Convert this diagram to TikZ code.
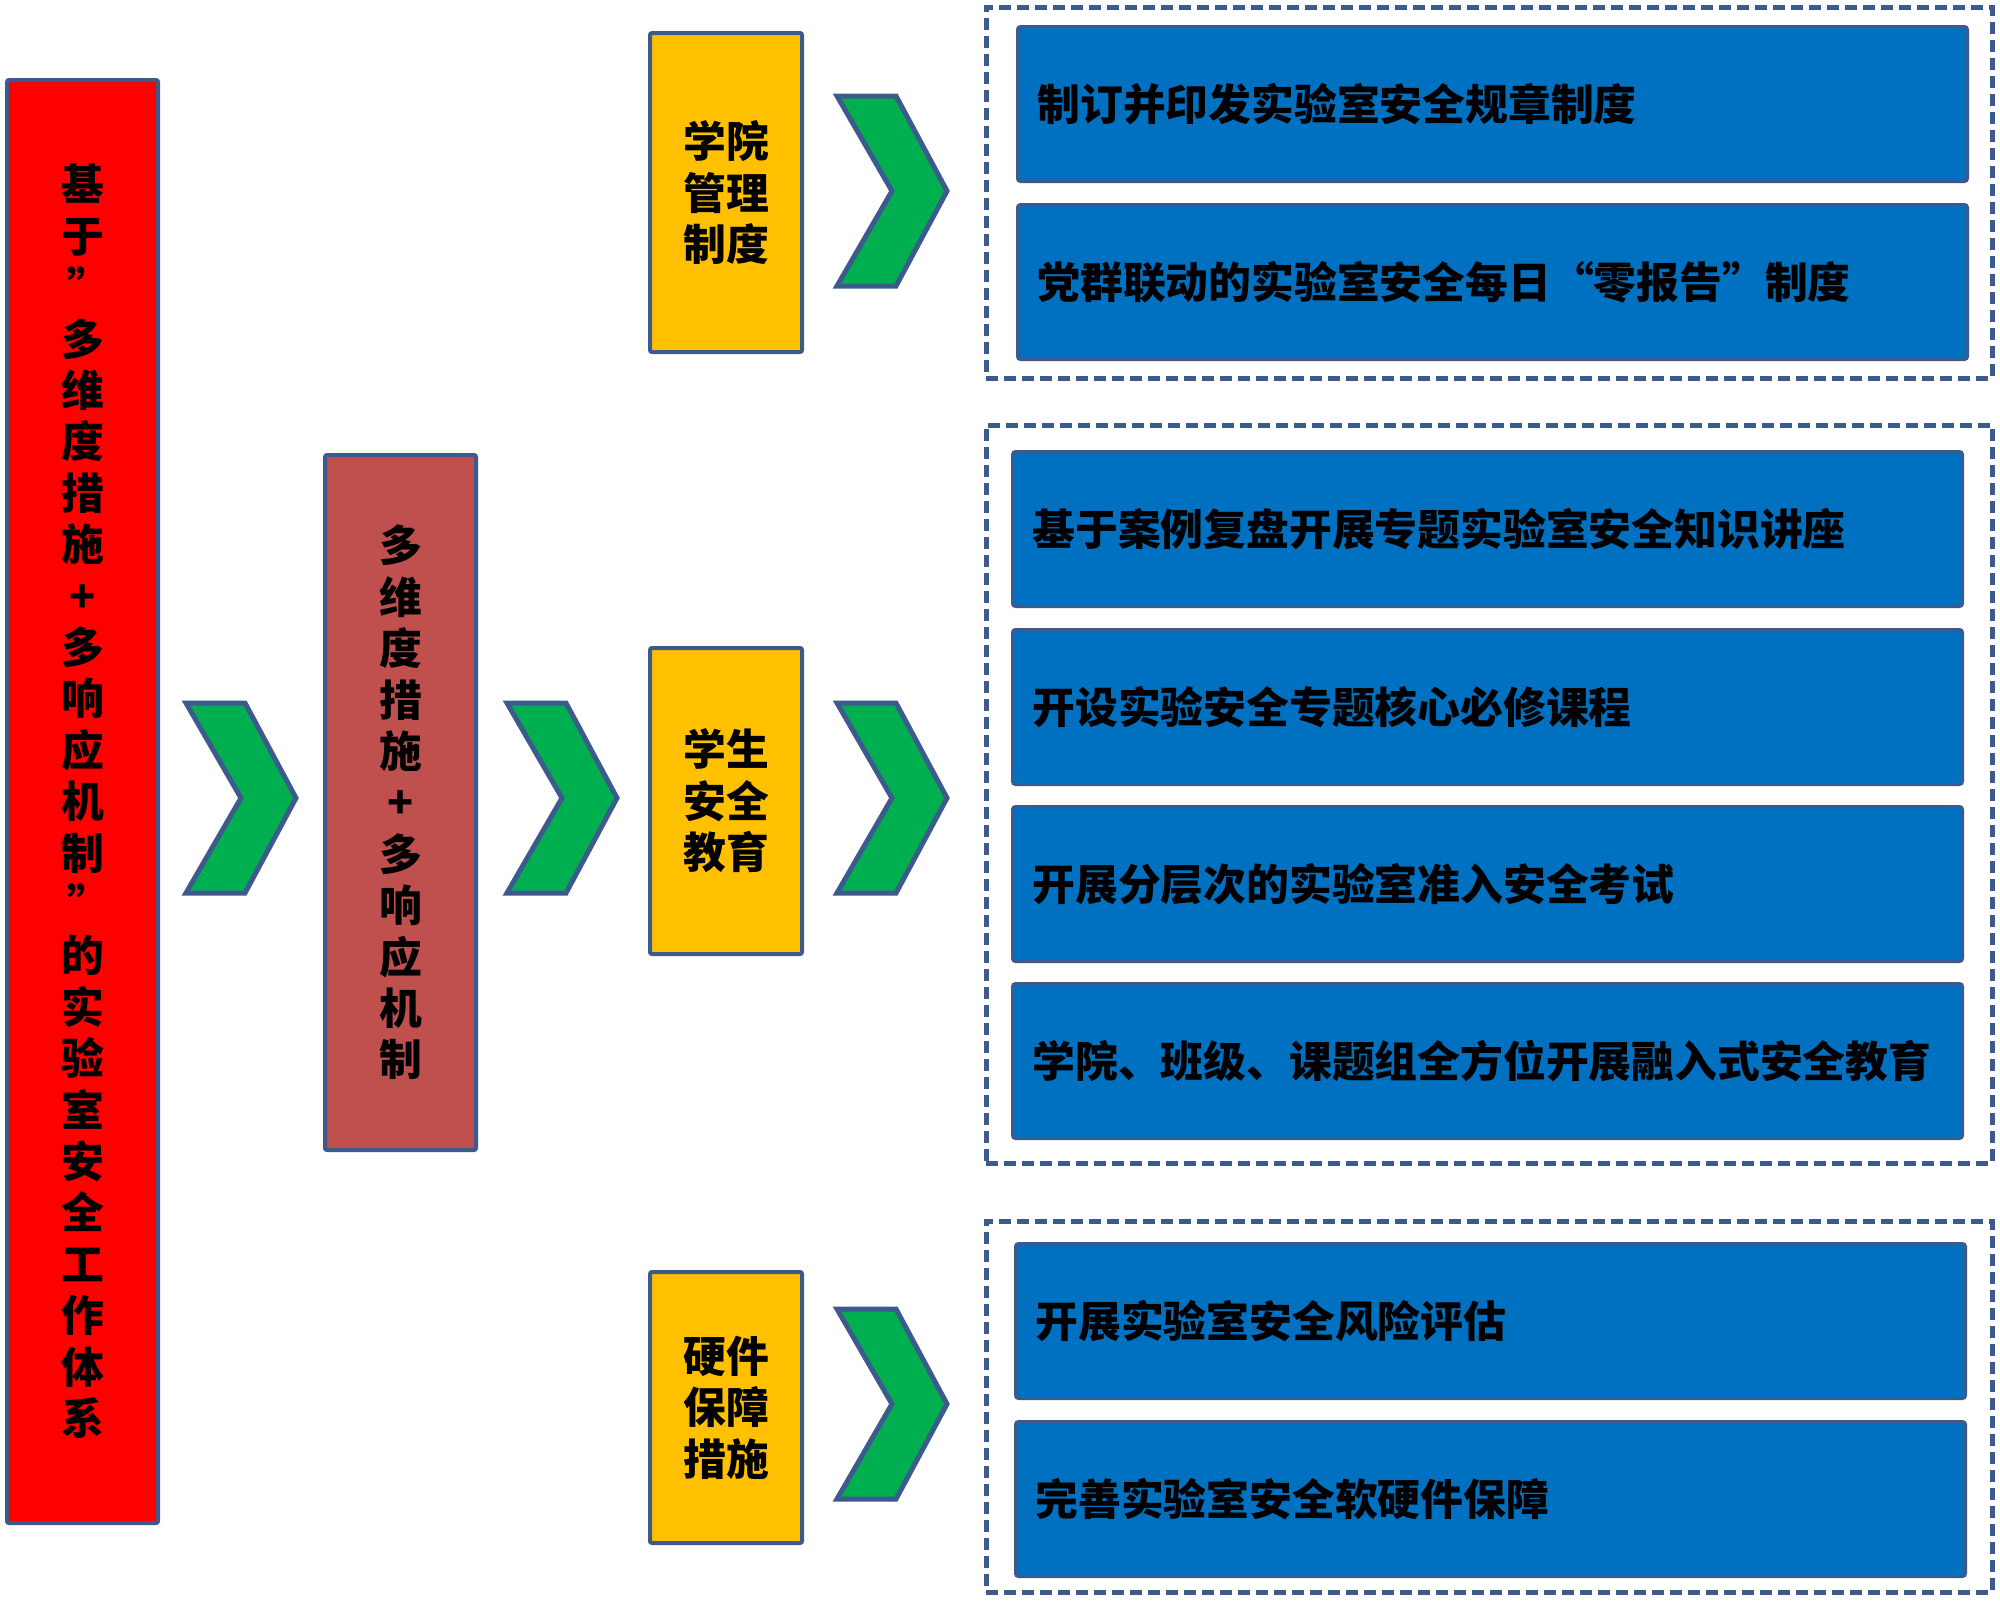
\documentclass[tikz,border=0pt]{standalone}
\usepackage{fontspec}
\newfontfamily\cjk{Noto Sans CJK SC}
\definecolor{bordc}{HTML}{3C5A8C}
\definecolor{redc}{HTML}{FF0000}
\definecolor{brownc}{HTML}{C0504D}
\definecolor{yellc}{HTML}{FFC000}
\definecolor{bluec}{HTML}{0070C0}
\definecolor{greenc}{HTML}{00B050}
\tikzset{
  txt/.style={font=\cjk\bfseries\fontsize{42.8}{51.4}\selectfont, text=black},
  colbox/.style={txt, draw=bordc, line width=4pt, rounded corners=2pt, anchor=north west, inner sep=0pt, align=center},
  bluebox/.style={txt, draw=bordc, line width=3pt, rounded corners=3pt, fill=bluec, anchor=north west,
    minimum width=950pt, minimum height=155pt, text width=910pt, inner xsep=20pt, inner ysep=0pt, align=left},
  groupbox/.style={draw=bordc, line width=4.5pt, dash pattern=on 12pt off 6pt, anchor=north west, inner sep=0pt,
    minimum width=1006pt},
  chevron/.style={draw=bordc, fill=greenc, line width=5pt, line join=miter},
}
\newcommand{\chev}[2]{%
  \filldraw[chevron] (#1,#2-95) -- ++(59,0) -- (#1+110,#2) -- (#1+59,#2+95) -- (#1,#2+95) -- (#1+55,#2) -- cycle;}
\newcommand{\qm}{\makebox[0pt][c]{\hspace{0.3em}”}}
\begin{document}
\begin{tikzpicture}[x=1pt,y=-1pt]
\useasboundingbox (0,0) rectangle (2000,1601);
% left column
\node[colbox, fill=redc, minimum width=151pt, minimum height=1443pt] (root) at (5,78)
  {基\\于\\\qm\\多\\维\\度\\措\\施\\+\\多\\响\\应\\机\\制\\\qm\\的\\实\\验\\室\\安\\全\\工\\作\\体\\系};
\node[colbox, fill=brownc, minimum width=151pt, minimum height=695pt] (mid) at (323,453)
  {多\\维\\度\\措\\施\\+\\多\\响\\应\\机\\制};
% chevrons
\chev{186}{798}
\chev{507}{798}
\chev{837}{191}
\chev{837}{798}
\chev{837}{1404}
% category boxes
\node[colbox, fill=yellc, minimum width=152pt, minimum height=319pt] (cat1) at (648,31) {学院\\管理\\制度};
\node[colbox, fill=yellc, minimum width=152pt, minimum height=306pt] (cat2) at (648,646) {学生\\安全\\教育};
\node[colbox, fill=yellc, minimum width=152pt, minimum height=271pt] (cat3) at (648,1270) {硬件\\保障\\措施};
% group boxes
\node[groupbox, minimum height=371pt] (g1) at (984,5) {};
\node[groupbox, minimum height=738pt] (g2) at (984,423) {};
\node[groupbox, minimum height=371pt] (g3) at (984,1219) {};
% items
\node[bluebox] (a1) at (1016,25) {制订并印发实验室安全规章制度};
\node[bluebox] (a2) at (1016,203) {党群联动的实验室安全每日“零报告”制度};
\node[bluebox] (b1) at (1011,450) {基于案例复盘开展专题实验室安全知识讲座};
\node[bluebox] (b2) at (1011,628) {开设实验安全专题核心必修课程};
\node[bluebox] (b3) at (1011,805) {开展分层次的实验室准入安全考试};
\node[bluebox] (b4) at (1011,982) {学院、班级、课题组全方位开展融入式安全教育};
\node[bluebox] (c1) at (1014,1242) {开展实验室安全风险评估};
\node[bluebox] (c2) at (1014,1420) {完善实验室安全软硬件保障};
\end{tikzpicture}
\end{document}
